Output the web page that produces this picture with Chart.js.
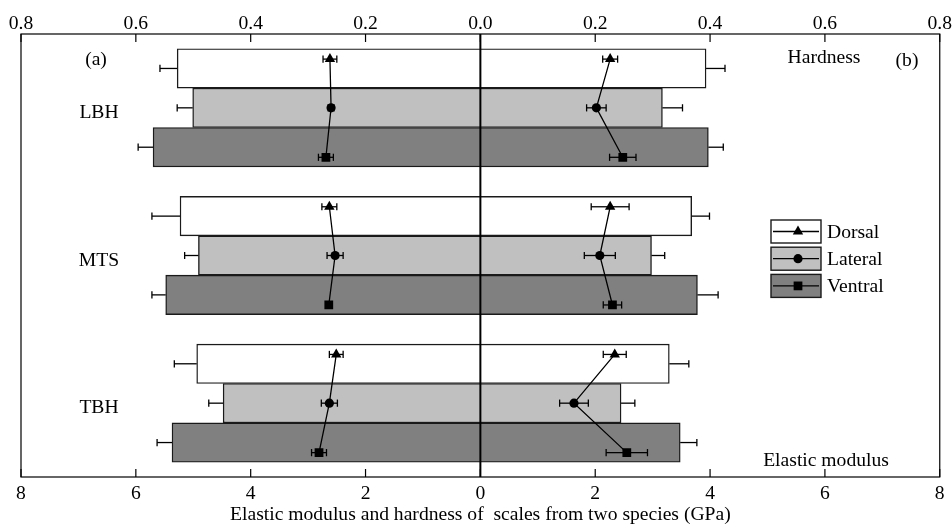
<!DOCTYPE html>
<html>
<head>
<meta charset="utf-8">
<script src="https://cdn.jsdelivr.net/npm/chart.js@4/dist/chart.umd.min.js"></script>
<style>
  html, body { margin: 0; padding: 0; background: #fff; }
  #wrap { width: 952px; height: 525px; }
</style>
</head>
<body>
<div id="wrap"><canvas id="chart"></canvas></div>
<script>
// ========================================
// Data
// ========================================
const regions = ['LBH', 'MTS', 'TBH'];
const seriesNames = ['Dorsal', 'Lateral', 'Ventral'];

// Elastic modulus (GPa) - bars, panel (a) on the left, panel (b) on the right
const modulusDorsalA = [5.28, 5.23, 4.94];
const modulusLateralA = [5.01, 4.91, 4.48];
const modulusVentralA = [5.70, 5.48, 5.37];
const modulusErrDorsalA = [0.30, 0.49, 0.39];
const modulusErrLateralA = [0.27, 0.24, 0.25];
const modulusErrVentralA = [0.26, 0.24, 0.26];

const modulusDorsalB = [3.93, 3.68, 3.29];
const modulusLateralB = [3.17, 2.98, 2.45];
const modulusVentralB = [3.97, 3.78, 3.48];
const modulusErrDorsalB = [0.33, 0.31, 0.34];
const modulusErrLateralB = [0.35, 0.23, 0.24];
const modulusErrVentralB = [0.26, 0.36, 0.29];

// Hardness (GPa) - lines with markers, top axis
const hardnessDorsalA = [0.262, 0.263, 0.251];
const hardnessLateralA = [0.260, 0.253, 0.263];
const hardnessVentralA = [0.269, 0.264, 0.281];
const hardnessErrDorsalA = [0.012, 0.013, 0.012];
const hardnessErrLateralA = [0.005, 0.014, 0.014];
const hardnessErrVentralA = [0.013, 0.004, 0.013];

const hardnessDorsalB = [0.226, 0.226, 0.234];
const hardnessLateralB = [0.202, 0.208, 0.163];
const hardnessVentralB = [0.248, 0.230, 0.255];
const hardnessErrDorsalB = [0.013, 0.033, 0.020];
const hardnessErrLateralB = [0.017, 0.027, 0.025];
const hardnessErrVentralB = [0.023, 0.016, 0.036];

// ========================================
// Style
// ========================================
const FONT_FAMILY = '"Liberation Serif", "Times New Roman", serif';
const FONT_SIZE = 19.6;
const barColors = ['#ffffff', '#c0c0c0', '#808080'];
const markerStyles = ['triangle', 'circle', 'rect'];
const markerRadius = [6, 4.6, 6.2];
const GROUP_FILL = 0.8;                            // share of a region taken by its 3 bars
const BAR_STEP = GROUP_FILL / seriesNames.length;  // one bar, in region units
const barOffsets = [-BAR_STEP, 0, BAR_STEP];
const markerOffsets = [-0.33, 0, 0.335];           // marker place inside its region
const CAP = 3.6;

const modulusA = [modulusDorsalA, modulusLateralA, modulusVentralA];
const modulusErrA = [modulusErrDorsalA, modulusErrLateralA, modulusErrVentralA];
const modulusB = [modulusDorsalB, modulusLateralB, modulusVentralB];
const modulusErrB = [modulusErrDorsalB, modulusErrLateralB, modulusErrVentralB];
const hardnessA = [hardnessDorsalA, hardnessLateralA, hardnessVentralA];
const hardnessErrA = [hardnessErrDorsalA, hardnessErrLateralA, hardnessErrVentralA];
const hardnessB = [hardnessDorsalB, hardnessLateralB, hardnessVentralB];
const hardnessErrB = [hardnessErrDorsalB, hardnessErrLateralB, hardnessErrVentralB];

// ========================================
// Datasets
// ========================================
const datasets = [];

// one floating bar per series and region: left end = panel (a), right end = panel (b)
seriesNames.forEach((name, s) => {
    datasets.push({
        type: 'bar',
        label: name,
        order: 2,
        grouped: false,
        data: regions.map((_, r) => ({
            x: [-modulusA[s][r], modulusB[s][r]],
            y: r + 0.5 + barOffsets[s]
        })),
        errorsA: modulusErrA[s],
        errorsB: modulusErrB[s],
        backgroundColor: barColors[s],
        borderColor: '#1a1a1a',
        borderWidth: 1.4,
        borderSkipped: false,
        barPercentage: 1.0,
        categoryPercentage: 1.0,
        xAxisID: 'x',
        yAxisID: 'y'
    });
});

regions.forEach((region, r) => {
    [[hardnessA, hardnessErrA, -1], [hardnessB, hardnessErrB, 1]].forEach(([vals, errs, sign]) => {
        datasets.push({
            type: 'line',
            label: region,
            order: 1,
            data: seriesNames.map((_, s) => ({ x: sign * vals[s][r], y: r + 0.5 + markerOffsets[s] })),
            errors: seriesNames.map((_, s) => errs[s][r]),
            borderColor: '#000',
            borderWidth: 1.3,
            pointStyle: markerStyles,
            pointRadius: markerRadius,
            pointBackgroundColor: '#000',
            pointBorderColor: '#000',
            pointBorderWidth: 0,
            fill: false,
            tension: 0,
            xAxisID: 'x2',
            yAxisID: 'y'
        });
    });
});

// ========================================
// Plugins
// ========================================
function line(ctx, x1, y1, x2, y2) {
    ctx.beginPath();
    ctx.moveTo(x1, y1);
    ctx.lineTo(x2, y2);
    ctx.stroke();
}

function capLine(ctx, from, to, y) {
    line(ctx, from, y, to, y);
    line(ctx, to, y - CAP, to, y + CAP);
}

const errorBars = {
    id: 'errorBars',
    afterDatasetsDraw(chart) {
        const ctx = chart.ctx;
        ctx.save();
        ctx.strokeStyle = '#000';
        ctx.lineWidth = 1.3;
        chart.data.datasets.forEach((ds, i) => {
            const meta = chart.getDatasetMeta(i);
            if (ds.type === 'bar') {
                const scale = chart.scales.x;
                meta.data.forEach((el, j) => {
                    const [lo, hi] = ds.data[j].x;
                    capLine(ctx, scale.getPixelForValue(lo), scale.getPixelForValue(lo - ds.errorsA[j]), el.y);
                    capLine(ctx, scale.getPixelForValue(hi), scale.getPixelForValue(hi + ds.errorsB[j]), el.y);
                });
            } else {
                const scale = chart.scales.x2;
                meta.data.forEach((el, j) => {
                    const v = ds.data[j].x;
                    const e = ds.errors[j];
                    const c = scale.getPixelForValue(v);
                    capLine(ctx, c, scale.getPixelForValue(v - e), el.y);
                    capLine(ctx, c, scale.getPixelForValue(v + e), el.y);
                });
            }
        });
        ctx.restore();
    }
};

const frame = {
    id: 'frame',
    afterDraw(chart) {
        const ctx = chart.ctx;
        const a = chart.chartArea;
        const x = chart.scales.x;
        const x2 = chart.scales.x2;
        const y = chart.scales.y;
        ctx.save();
        ctx.strokeStyle = '#000';
        ctx.lineWidth = 1.2;
        ctx.strokeRect(a.left, a.top, a.right - a.left, a.bottom - a.top);

        // inward tick marks
        x.ticks.forEach(t => {
            const px = x.getPixelForValue(t.value);
            line(ctx, px, a.bottom, px, a.bottom - 8);
        });
        x2.ticks.forEach(t => {
            const px = x2.getPixelForValue(t.value);
            line(ctx, px, a.top, px, a.top + 8);
        });

        // zero line
        ctx.lineWidth = 2;
        const zx = x.getPixelForValue(0);
        line(ctx, zx, a.top, zx, a.bottom);

        // annotations
        ctx.fillStyle = '#000';
        ctx.font = FONT_SIZE + 'px ' + FONT_FAMILY;
        ctx.textAlign = 'center';
        ctx.textBaseline = 'alphabetic';
        regions.forEach((name, r) => {
            ctx.fillText(name, 99, y.getPixelForValue(r + 0.5) + 10);
        });
        ctx.fillText('(a)', 96, 65);
        ctx.fillText('(b)', 907, 66);
        ctx.fillText('Hardness', 824, 63);
        ctx.fillText('Elastic modulus', 826, 466);

        // legend
        const boxL = 771, boxW = 50, boxH = 23, top0 = 220, step = 27.2;
        seriesNames.forEach((name, s) => {
            const top = top0 + s * step;
            const cy = top + boxH / 2;
            ctx.fillStyle = barColors[s];
            ctx.fillRect(boxL, top, boxW, boxH);
            ctx.strokeStyle = '#1a1a1a';
            ctx.lineWidth = 1.4;
            ctx.strokeRect(boxL, top, boxW, boxH);
            ctx.strokeStyle = '#000';
            ctx.lineWidth = 1.3;
            line(ctx, boxL + 2, cy, boxL + boxW - 2, cy);
            ctx.fillStyle = '#000';
            Chart.helpers.drawPoint(ctx, {
                pointStyle: markerStyles[s],
                radius: markerRadius[s],
                borderWidth: 0
            }, boxL + boxW / 2 + 2, cy);
            ctx.fillStyle = '#000';
            ctx.textAlign = 'left';
            ctx.fillText(name, 827, cy + 6);
        });
        ctx.restore();
    }
};

// ========================================
// Chart
// ========================================
const tickFont = { family: FONT_FAMILY, size: FONT_SIZE, lineHeight: 1 };

new Chart(document.getElementById('chart'), {
    type: 'bar',
    data: { datasets: datasets },
    options: {
        indexAxis: 'y',
        responsive: true,
        maintainAspectRatio: false,
        animation: false,
        layout: { padding: { left: 21, right: 12, top: 0, bottom: 0 } },
        plugins: {
            legend: { display: false },
            tooltip: { enabled: false }
        },
        scales: {
            x: {
                type: 'linear',
                position: 'bottom',
                min: -8,
                max: 8,
                grid: { display: false, drawTicks: false },
                border: { display: false },
                ticks: {
                    stepSize: 2,
                    color: '#000',
                    font: tickFont,
                    padding: 7,
                    maxRotation: 0,
                    autoSkip: false,
                    callback: v => Math.abs(v)
                },
                title: {
                    display: true,
                    text: 'Elastic modulus and hardness of  scales from two species (GPa)',
                    color: '#000',
                    font: { family: FONT_FAMILY, size: FONT_SIZE, lineHeight: 1 },
                    padding: 0
                },
                afterFit: s => { s.height = 48; }
            },
            x2: {
                type: 'linear',
                position: 'top',
                min: -0.8,
                max: 0.8,
                grid: { display: false, drawTicks: false },
                border: { display: false },
                ticks: {
                    stepSize: 0.2,
                    color: '#000',
                    font: tickFont,
                    padding: 0,
                    maxRotation: 0,
                    autoSkip: false,
                    callback: v => Math.abs(v).toFixed(1)
                },
                afterFit: s => { s.height = 34; }
            },
            y: {
                type: 'linear',
                display: false,
                offset: false,
                min: 0,
                max: regions.length,
                reverse: true,
                ticks: { stepSize: 1 }
            }
        }
    },
    plugins: [errorBars, frame]
});
</script>
</body>
</html>
